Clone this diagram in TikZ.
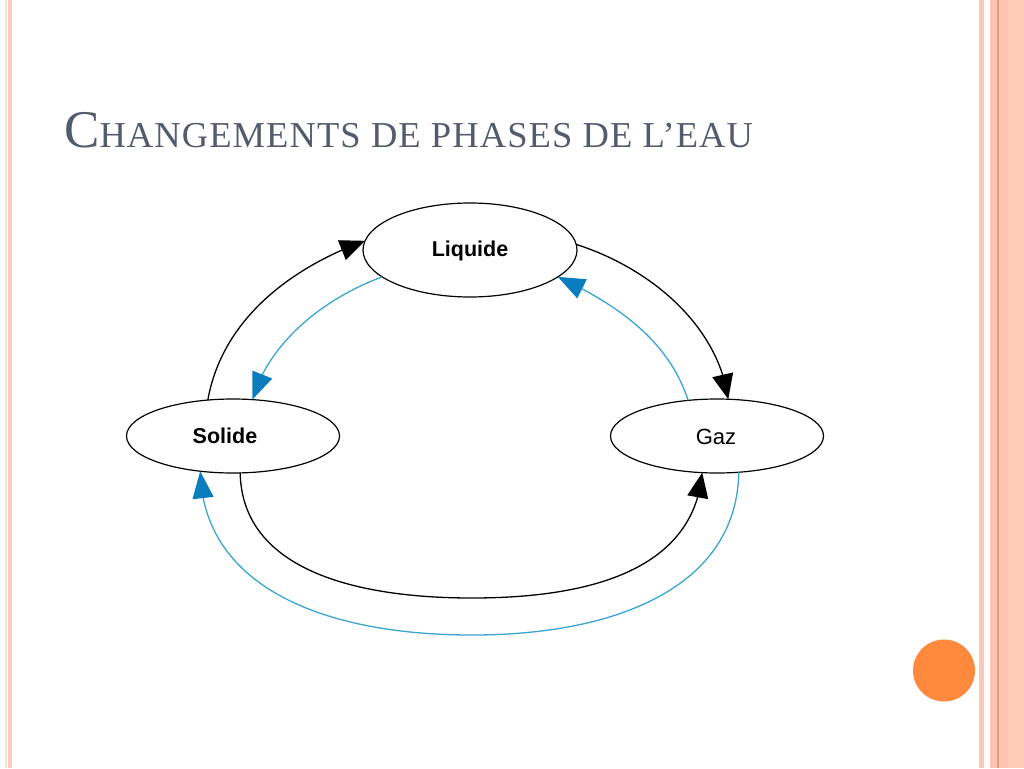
\documentclass[tikz,border=0pt]{standalone}
\usepackage{fontspec}
\newfontfamily\lsans{Liberation Sans}
\newfontfamily\lserif[LetterSpace=3]{Liberation Serif}
\usetikzlibrary{arrows.meta,shapes.geometric,bending}
\definecolor{titlecol}{RGB}{82,92,108}
\definecolor{bluel}{RGB}{58,165,210}
\definecolor{blueh}{RGB}{10,125,190}
\definecolor{pinkA}{RGB}{255,200,188}
\definecolor{creamA}{RGB}{248,228,212}
\definecolor{pinkB}{RGB}{249,201,185}
\definecolor{pinkC}{RGB}{250,196,174}
\definecolor{pinkD}{RGB}{255,203,182}
\definecolor{pinkline}{RGB}{228,160,130}
\definecolor{orangec}{RGB}{255,138,61}
\tikzset{
  phase/.style={ellipse, draw=black, line width=1.2pt, fill=white, inner sep=0pt, outer sep=0pt},
  blk/.style={draw=black, line width=1.3pt, -{Triangle[length=25pt,width=21pt,flex]}},
  blu/.style={draw=bluel, line width=1.3pt, -{Triangle[length=27pt,width=21pt,fill=blueh,color=blueh,flex]}},
  lbl/.style={font=\lsans\bfseries\fontsize{21.5}{24}\selectfont},
  lblr/.style={font=\lsans\fontsize{22}{24}\selectfont},
}
\newcommand{\bigc}[1]{{\fontsize{53}{58}\selectfont #1}}
\newcommand{\smc}[1]{{\fontsize{36.5}{40}\selectfont #1}}
\begin{document}
\begin{tikzpicture}[x=1pt,y=-1pt]
\useasboundingbox (0,0) rectangle (1024,768);
\fill[white] (0,0) rectangle (1024,768);
% borders
\fill[creamA] (5,0) rectangle (6.5,768);
\fill[pinkA] (8,0) rectangle (12,768);
\fill[pinkB] (979,0) rectangle (984,768);
\fill[pinkC] (990,0) rectangle (1008,768);
\fill[pinkD] (1008,0) rectangle (1024,768);
\fill[pinkline] (997.3,0) rectangle (998.5,768);
% orange circle
\fill[orangec] (944,670.5) circle[radius=31];
% title
\node[anchor=base west, inner sep=0pt, text=titlecol, font=\lserif] (title) at (64,147)
  {\bigc{C}\smc{HANGEMENTS DE PHASES DE L’EAU}};
% phases
\node[phase, minimum width=214, minimum height=94] (liq) at (470,250) {};
\node[lbl] (liqt) at (470,251) {Liquide};
\node[phase, minimum width=213, minimum height=74] (sol) at (233,436) {};
\node[lbl] (solt) at (225,436) {Solide};
\node[phase, minimum width=213, minimum height=74] (gaz) at (717,436) {};
\node[lblr] (gazt) at (716,437) {Gaz};
% connectors
\draw[blk] (sol.125) .. controls (222,320) and (290,268) .. (liq.175);
\draw[blu] (liq.197) .. controls (320,300) and (268,345) .. (sol.62);
\draw[blk] (liq.3) .. controls (650,268) and (718,325) .. (gaz.73);
\draw[blu] (gaz.129) .. controls (670,345) and (625,308) .. (liq.343);
\draw[blk] (sol.281) .. controls (242,565) and (345,598) .. (472,598)
  .. controls (600,598) and (694,565) .. (gaz.248);
\draw[blu] (gaz.301) .. controls (737,585) and (620,635) .. (472,635)
  .. controls (320,635) and (203,585) .. (sol.227);
\end{tikzpicture}
\end{document}
